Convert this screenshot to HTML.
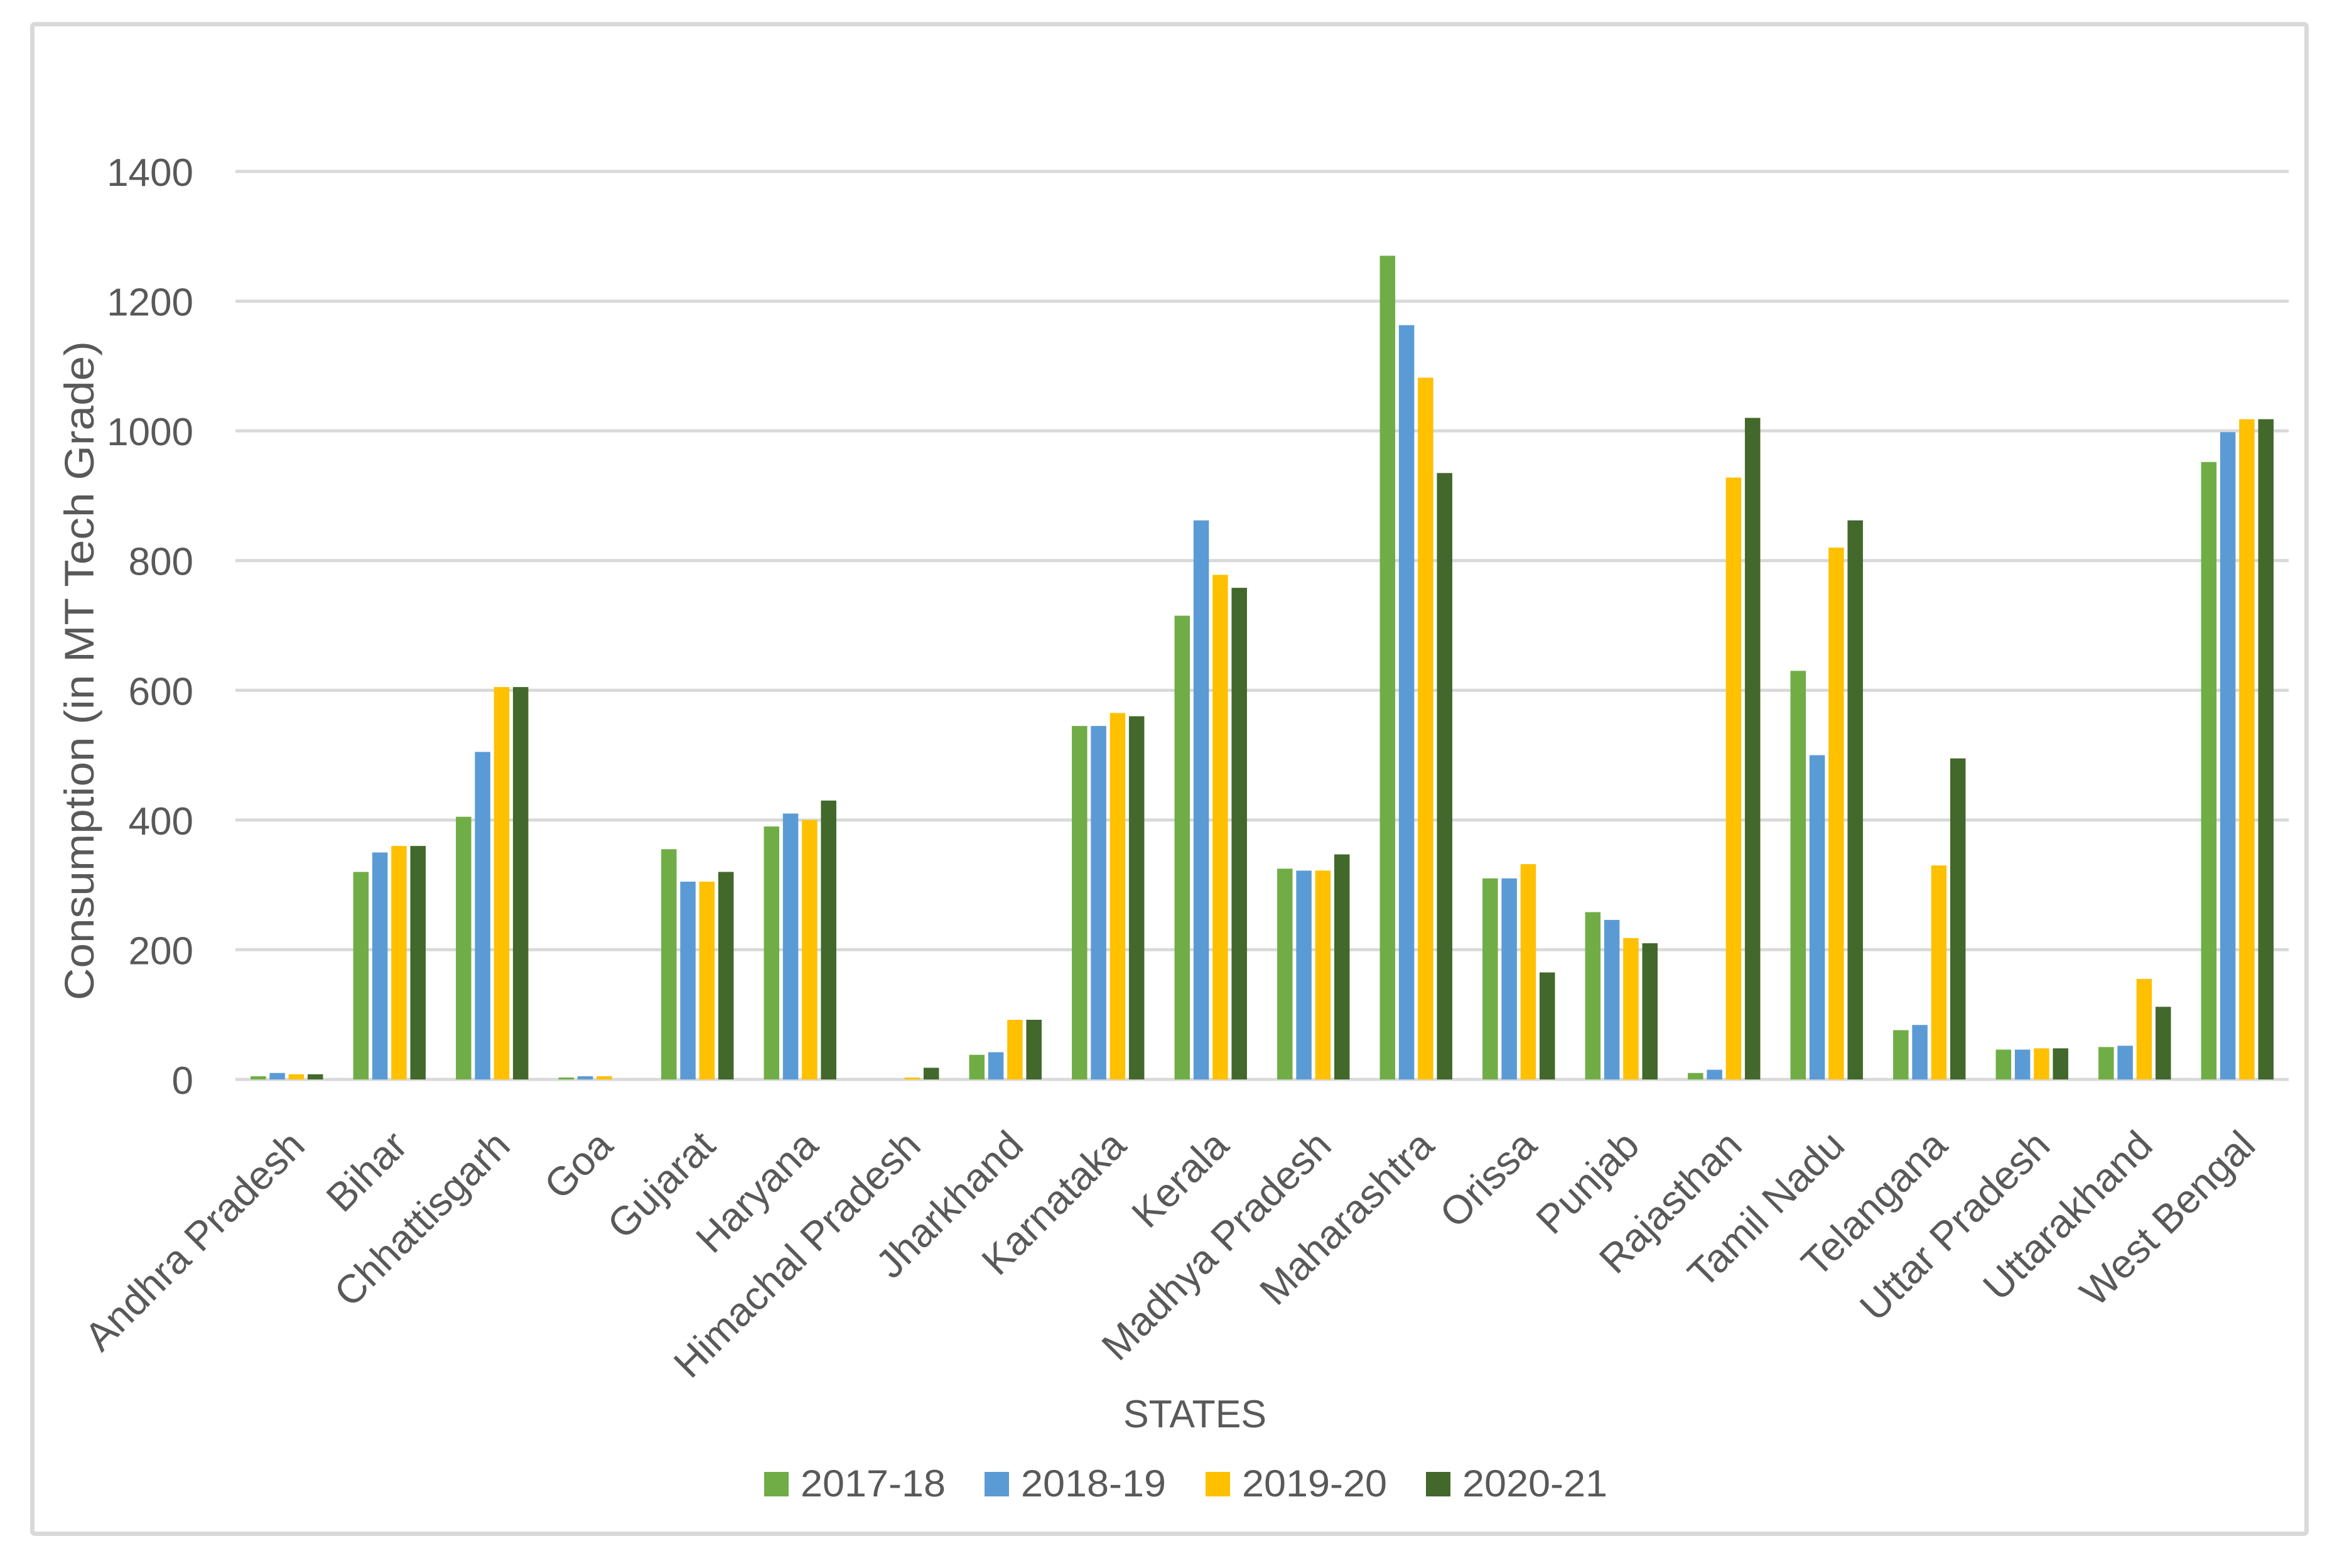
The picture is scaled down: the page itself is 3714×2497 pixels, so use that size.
<!DOCTYPE html>
<html><head><meta charset="utf-8"><style>html,body{margin:0;padding:0;background:#fff}svg{display:block}</style></head>
<body>
<svg id="chart" xmlns="http://www.w3.org/2000/svg" width="3714" height="2497" viewBox="0 0 3714 2497" font-family="'Liberation Sans', sans-serif">
<rect x="51.5" y="38.5" width="3622" height="2404" fill="#fff" stroke="#d9d9d9" stroke-width="7" rx="4"/>
<g id="grid"></g>
<g id="yticks"></g>
<g id="bars"></g>
<g id="xlabels"></g>
<text transform="translate(127,1068) rotate(-90)" text-anchor="middle" font-size="66" fill="#595959" textLength="1050" lengthAdjust="spacingAndGlyphs" dy="22">Consumption (in MT Tech Grade)</text>
<text x="1903" y="2273" text-anchor="middle" font-size="62" fill="#595959" textLength="228" lengthAdjust="spacingAndGlyphs">STATES</text>
<g id="legend"></g>
</svg>
<script>
const categories = ["Andhra Pradesh","Bihar","Chhattisgarh","Goa","Gujarat","Haryana","Himachal Pradesh","Jharkhand","Karnataka","Kerala","Madhya Pradesh","Maharashtra","Orissa","Punjab","Rajasthan","Tamil Nadu","Telangana","Uttar Pradesh","Uttarakhand","West Bengal"];
const seriesNames = ["2017-18","2018-19","2019-20","2020-21"];
const s2017 = [5,320,405,3,355,390,0,38,545,715,325,1270,310,258,10,630,76,46,50,952];
const s2018 = [10,350,505,5,305,410,0,42,545,862,322,1163,310,246,15,500,84,46,52,998];
const s2019 = [8,360,605,5,305,400,3,92,565,778,322,1082,332,218,928,820,330,48,155,1018];
const s2020 = [8,360,605,0,320,430,18,92,560,758,347,935,165,210,1020,862,495,48,112,1018];
const yTicks = [0,200,400,600,800,1000,1200,1400];
const colors = ["#70ad47","#5b9bd5","#ffc000","#43682b"];
const series = [s2017,s2018,s2019,s2020];

const NS="http://www.w3.org/2000/svg";
const plotL=375, plotR=3645, y0=1719, y1400=273;
const yScale = v => y0 - (v/1400)*(y0-y1400);
const band = (plotR-plotL)/categories.length;
const xCenter = i => plotL + band*(i+0.5);
const barW=24.5, step=30.3;
function mk(tag, attrs, parent){const e=document.createElementNS(NS,tag);for(const k in attrs)e.setAttribute(k,attrs[k]);parent.appendChild(e);return e;}

const grid=document.getElementById('grid'), yt=document.getElementById('yticks');
yTicks.forEach(t=>{
  const l=mk('line',{x1:plotL,x2:plotR,y1:yScale(t),y2:yScale(t),stroke:'#d9d9d9','stroke-width':5},grid);
  
  
  const tx=mk('text',{x:308,y:yScale(t)+23,'text-anchor':'end','font-size':62,fill:'#595959'},yt);
  tx.textContent=t;
  
  
});

const bars=document.getElementById('bars');
categories.forEach((c,i)=>{
  series.forEach((s,j)=>{
    const x=xCenter(i)+(j-1.5)*step-barW/2;
    const r=mk('rect',{x:x,y:yScale(s[i]),width:barW,height:y0-yScale(s[i]),fill:colors[j]},bars);
    
    
  });
});

const xl=document.getElementById('xlabels');
categories.forEach((c,i)=>{
  const cx=xCenter(i)+32, cy=1828;
  const t=mk('text',{x:cx,y:cy,'text-anchor':'end','font-size':64,fill:'#595959',transform:`rotate(-45 ${cx} ${cy})`},xl);
  t.textContent=c;
  
  
});

const lg=document.getElementById('legend');
const legX=[1217,1568,1920,2271];
seriesNames.forEach((n,j)=>{
  const g=mk('g',{},lg);
  
  
  mk('rect',{x:legX[j],y:2344,width:39,height:39,fill:colors[j]},g);
  const t=mk('text',{x:legX[j]+58,y:2383,'font-size':60,fill:'#595959',textLength:231,lengthAdjust:'spacingAndGlyphs'},g);
  t.textContent=n;
});
</script>
</body></html>
